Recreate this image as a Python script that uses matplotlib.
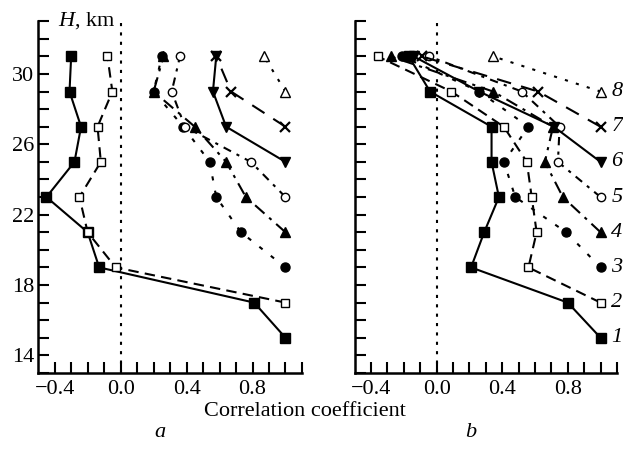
import numpy as np
import matplotlib
matplotlib.use("Agg")
import matplotlib.pyplot as plt
from matplotlib.ticker import MultipleLocator, FixedLocator

plt.rcParams["font.family"] = ["Liberation Serif", "DejaVu Serif"]
plt.rcParams["mathtext.fontset"] = "custom"
plt.rcParams["mathtext.it"] = "Liberation Serif:italic"
plt.rcParams["mathtext.rm"] = "Liberation Serif"

FS = 16

# Heights (km) for every series; series k starts at its own reference level
heights = [
    [15, 17, 19, 21, 23, 25, 27, 29, 31],
    [17, 19, 21, 23, 25, 27, 29, 31],
    [19, 21, 23, 25, 27, 29, 31],
    [21, 23, 25, 27, 29, 31],
    [23, 25, 27, 29, 31],
    [25, 27, 29, 31],
    [27, 29, 31],
    [29, 31],
]

# Panel a: correlation coefficients
corr_a = [
    [1.0, 0.81, -0.13, -0.20, -0.45, -0.28, -0.24, -0.31, -0.30],
    [1.0, -0.03, -0.20, -0.25, -0.12, -0.14, -0.05, -0.08],
    [1.0, 0.73, 0.58, 0.54, 0.38, 0.20, 0.25],
    [1.0, 0.76, 0.64, 0.45, 0.20, 0.26],
    [1.0, 0.79, 0.39, 0.31, 0.36],
    [1.0, 0.64, 0.56, 0.58],
    [1.0, 0.67, 0.58],
    [1.0, 0.87],
]

# Panel b: correlation coefficients
corr_b = [
    [1.0, 0.80, 0.21, 0.29, 0.38, 0.335, 0.335, -0.04, -0.17],
    [1.0, 0.56, 0.61, 0.58, 0.55, 0.41, 0.09, -0.36],
    [1.0, 0.79, 0.48, 0.41, 0.56, 0.26, -0.21],
    [1.0, 0.77, 0.66, 0.71, 0.345, -0.28],
    [1.0, 0.74, 0.75, 0.52, -0.045],
    [1.0, 0.715, 0.26, -0.14],
    [1.0, 0.62, -0.09],
    [1.0, 0.345],
]

series_labels = ["1", "2", "3", "4", "5", "6", "7", "8"]
y_ticklabels = [14, 18, 22, 26, 30]
x_ticklabels = [-0.4, 0.0, 0.4, 0.8]

# marker, filled?, linestyle, markersize
styles = [
    ("s", True, "-", 6.5),
    ("s", False, (0, (5, 3)), 6.0),
    ("o", True, (0, (2, 5)), 6.5),
    ("^", True, (0, (6, 3, 1.5, 3)), 7.0),
    ("o", False, (0, (4, 3, 1.5, 3)), 6.0),
    ("v", True, "-", 7.0),
    ("x", False, (0, (7, 5)), 6.5),
    ("^", False, (0, (1.5, 4)), 6.5),
]

fig = plt.figure(figsize=(6.23, 4.61), dpi=100)
ax_a = fig.add_axes([0.0613, 0.191, 0.4234, 0.763])
ax_b = fig.add_axes([0.5693, 0.191, 0.421, 0.763])


def draw(ax, corr, show_ylabels):
    ax.axvline(0.0, color="black", ls=(0, (1.5, 3)), lw=1.5, zorder=1)
    for (mk, filled, ls, ms), hs, rs in zip(styles, heights, corr):
        ax.plot(rs, hs, color="black", lw=1.5, ls=ls, marker=mk, ms=ms,
                mfc="black" if filled else "white", mec="black",
                mew=1.6 if mk == "x" else 1.0, zorder=3)
    ax.set_xlim(-0.5, 1.1)
    ax.set_ylim(13, 33)
    for s in ("top", "right"):
        ax.spines[s].set_visible(False)
    for s in ("left", "bottom"):
        ax.spines[s].set_linewidth(1.8)
    ax.xaxis.set_major_locator(FixedLocator(x_ticklabels))
    ax.xaxis.set_minor_locator(FixedLocator(np.round(np.arange(-0.4, 1.11, 0.1), 2)))
    ax.yaxis.set_major_locator(FixedLocator(y_ticklabels))
    ax.yaxis.set_minor_locator(MultipleLocator(1))
    ax.set_xticklabels(["\u22120.4", "0.0", "0.4", "0.8"], fontsize=FS)
    if show_ylabels:
        ax.set_yticklabels([str(v) for v in y_ticklabels], fontsize=FS)
    else:
        ax.set_yticklabels([])
    ax.tick_params(which="both", direction="in", length=8, width=1.5)
    ax.tick_params(axis="x", which="major", pad=5)
    ax.tick_params(axis="y", which="major", pad=3)


draw(ax_a, corr_a, True)
draw(ax_b, corr_b, False)

for lab, hs in zip(series_labels, heights):
    ax_b.text(1.065, hs[0], lab, fontsize=FS, style="italic",
              ha="left", va="center", clip_on=False)

fig.text(0.093, 0.955, "$H$, km", fontsize=FS, ha="left", va="center")
fig.text(0.49, 0.107, "Correlation coefficient", fontsize=FS, ha="center", va="center")
fig.text(0.257, 0.062, "a", fontsize=FS, style="italic", ha="center", va="center")
fig.text(0.755, 0.062, "b", fontsize=FS, style="italic", ha="center", va="center")

fig.savefig("out.png", dpi=100)
